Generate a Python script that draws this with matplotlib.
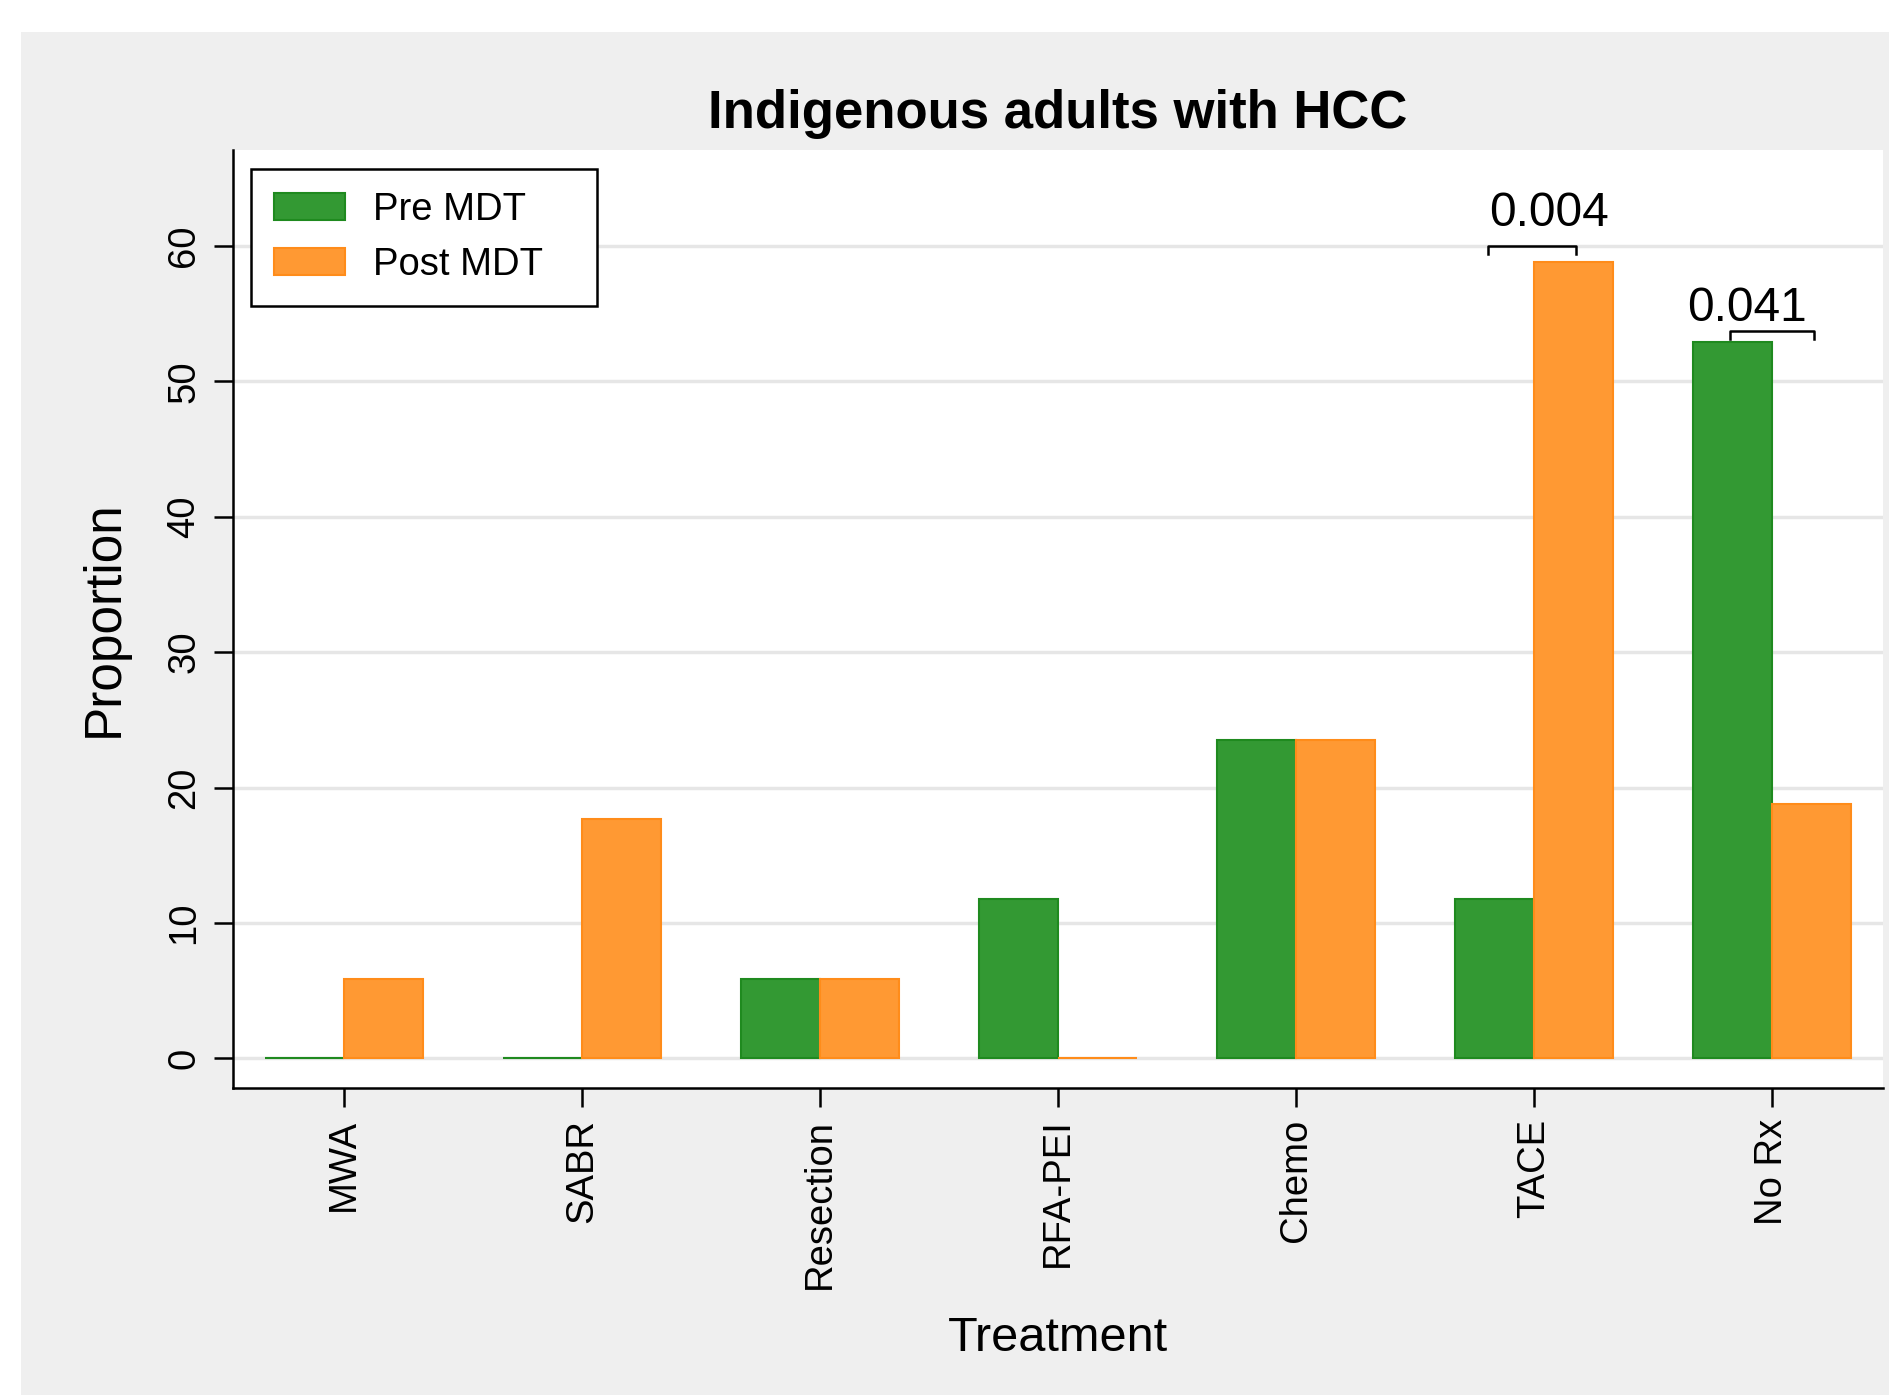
import numpy as np
import matplotlib
matplotlib.use("Agg")
from matplotlib import pyplot as plt
from matplotlib.patches import Rectangle

plt.rcParams['font.family'] = ['Liberation Sans', 'DejaVu Sans']

treatments = ["MWA", "SABR", "Resection", "RFA-PEI", "Chemo", "TACE", "No Rx"]
pre_mdt = [0, 0, 5.88, 11.76, 23.53, 11.76, 52.94]
post_mdt = [5.88, 17.65, 5.88, 0, 23.53, 58.82, 18.75]
yticks = [0, 10, 20, 30, 40, 50, 60]

# p-value brackets: (x0, x1, y, text x, text y, label)
pvals = [(4.805, 5.175, 60.0, 5.063, 62.4, "0.004"),
         (5.823, 6.177, 53.7, 5.894, 55.4, "0.041")]

fig = plt.figure(figsize=(18.9, 13.95), dpi=100)
fig.patches.append(Rectangle((21 / 1890, 0), 1, 1 - 32 / 1395, transform=fig.transFigure,
                             facecolor="#efefef", edgecolor="none", zorder=-10))
ax = fig.add_axes([233 / 1890, 1 - 1088 / 1395, 1650 / 1890, 938 / 1395])
ax.set_facecolor("white")

x = np.arange(len(treatments))
w = 0.333
ax.bar(x - w / 2, pre_mdt, w, color="#339933", edgecolor="#1f8a1f", linewidth=1.5,
       label="Pre MDT", zorder=3)
ax.bar(x + w / 2, post_mdt, w, color="#ff9933", edgecolor="#ff8c1a", linewidth=1.5,
       label="Post MDT", zorder=3)

for x0, x1, y, tx, ty, lab in pvals:
    ax.plot([x0, x0, x1, x1], [y - 0.6, y, y, y - 0.6], color="black", lw=1.8, zorder=4)
    ax.text(tx, ty, lab, ha="center", va="center", fontsize=34.5)

ax.set_xlim(-0.466, 6.466)
ax.set_ylim(-2.2, 67.1)
ax.set_yticks(yticks)
ax.set_yticklabels([str(v) for v in yticks], rotation=90, va="center")
ax.set_xticks(x)
ax.set_xticklabels(treatments, rotation=90)
ax.tick_params(axis="both", labelsize=27.5, length=14, width=1.8, color="black", pad=8)
ax.grid(axis="y", color="#e6e6e6", lw=2.5, zorder=0)
ax.set_axisbelow(True)

for s in ["top", "right"]:
    ax.spines[s].set_visible(False)
for s in ["left", "bottom"]:
    ax.spines[s].set_linewidth(1.8)

ax.set_title("Indigenous adults with HCC", fontsize=38, fontweight="bold", pad=16)
ax.set_ylabel("Proportion", fontsize=37, labelpad=27)
ax.set_xlabel("Treatment", fontsize=35, labelpad=20)

leg = ax.legend(loc="upper left", bbox_to_anchor=(0.011, 0.98), borderaxespad=0,
                fontsize=27.5, fancybox=False, framealpha=1, edgecolor="black",
                handlelength=1.85, handleheight=0.72, handletextpad=0.75,
                labelspacing=0.5, borderpad=0.6)
leg.get_frame().set_linewidth(1.8)
# reference frame has extra room on the right of the labels
leg.get_texts()[0].set_text("Pre MDT   ")
leg.get_texts()[1].set_text("Post MDT   ")

fig.savefig("out.png", dpi=100)
